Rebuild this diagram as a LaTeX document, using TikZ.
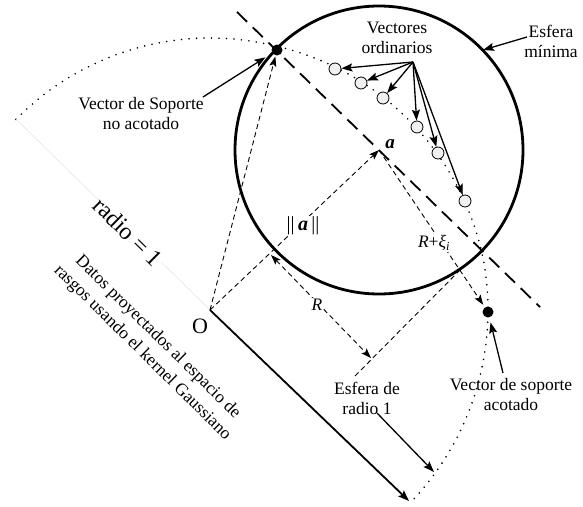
\documentclass[tikz,border=0pt]{standalone}
\usepackage{fontspec}
\setmainfont{Liberation Serif}
\usetikzlibrary{arrows.meta}
\begin{document}
\begin{tikzpicture}[x=1pt,y=-1pt,
  thickc/.style={line width=2.8pt},
  tip/.style={-{Stealth[length=11pt,width=8pt,inset=2pt]}},
  arr/.style={line width=1.3pt,tip},
  thindash/.style={line width=0.9pt,dash pattern=on 5pt off 3.5pt},
  darr/.style={thindash,-{Stealth[length=10pt,width=7pt,inset=2pt]}},
  longdash/.style={line width=1.8pt,dash pattern=on 14pt off 8pt},
  dotline/.style={line width=1.8pt,dash pattern=on 0pt off 7.5pt,line cap=round},
  lbl/.style={font=\fontsize{17.5}{20}\selectfont,align=center,inner sep=1pt},
  vec/.style={circle,draw,line width=0.8pt,fill=gray!12,minimum size=12pt,inner sep=0pt},
  svdot/.style={circle,fill=black,minimum size=11pt,inner sep=0pt},
  wlbl/.style={fill=white,inner sep=1pt},
]
\useasboundingbox (0,0) rectangle (583,506);
% key points
\coordinate (O) at (210,310);
\coordinate (a) at (379,150);
\coordinate (arcstart) at (16,119);
\coordinate (E) at (409,501);
\coordinate (ld1) at (237,12);
\coordinate (ld2) at (540,307);
\coordinate (P) at (271,255);
\coordinate (Q) at (371,358);
\coordinate (L1) at (355,376);
\coordinate (L2) at (463,267);
% radius-1 sphere (dotted)
\draw[dotline] plot[domain=135.5:-44,samples=150]
  ({210+(272+6*max(0,min(1,(77-\x)/67)))*cos(\x)},
   {310-(272+6*max(0,min(1,(77-\x)/67)))*sin(\x)});
% faint radius line
\draw[gray!20,line width=0.6pt] (O) -- (arcstart);
% minimal sphere
\draw[thickc] (a) circle[radius=144];
% long dashed hyperplane
\draw[longdash] (ld1) -- (ld2);
% solid radius line
\draw[line width=1.8pt,tip] (O) -- (E);
% support vectors and ordinary vectors
\node[svdot] (svu) at (277,50) {};
\node[svdot] (svb) at (488,312) {};
\node[vec] (c1) at (335,69) {};
\node[vec] (c2) at (361,83) {};
\node[vec] (c3) at (383,98) {};
\node[vec] (c4) at (417,127) {};
\node[vec] (c5) at (438,153) {};
\node[vec] (c6) at (465,201) {};
% dashed vectors
\draw[darr,shorten >=1pt] (O) -- (svu);
\draw[darr] (O) -- (a);
\draw[darr,shorten >=3pt] (a) -- (svb);
\draw[thindash,{Stealth[length=10pt,width=7pt,inset=2pt]}-{Stealth[length=10pt,width=7pt,inset=2pt]}] (P) -- (Q);
\draw[thindash] (L1) -- (L2);
% labels on lines
\node[wlbl,font=\fontsize{24}{26}\selectfont,rotate=-44.6] (radio) at (128,232) {radio = 1};
\node[wlbl,font=\fontsize{20}{22}\selectfont] (norm) at (303,226) {||\,\textbf{\textit{a}}\,||};
\node[wlbl,font=\fontsize{17.5}{20}\selectfont] (Rl) at (317,305) {\textit{R}};
\node[wlbl,font=\fontsize{17.5}{20}\selectfont] (Rxi) at (434,243) {\textit{R}+\textit{ξ}\textsubscript{\textit{i}}};
\node[font=\fontsize{19}{21}\selectfont\bfseries\itshape,inner sep=0pt] (alab) at (390,144) {a};
\node[font=\fontsize{22}{24}\selectfont,inner sep=0pt] (Olab) at (200,326) {O};
% text labels
\node[lbl] (vsna) at (141,114) {Vector de Soporte\\no acotado};
\node[lbl] (vo) at (397,38) {Vectores\\ordinarios};
\node[lbl] (em) at (551,41) {Esfera\\mínima};
\node[lbl] (edr) at (367,398) {Esfera de\\radio 1};
\node[lbl] (vsa) at (511,395) {Vector de soporte\\acotado};
\node[lbl,font=\fontsize{17.5}{22}\selectfont,rotate=-44.6] (datos) at (150,345) {Datos proyectados al espacio de\\rasgos usando el kernel Gaussiano};
% label arrows
\coordinate (vsnaS) at (203,97);
\coordinate (voS) at (413,62);
\coordinate (emS) at (527,37);
\coordinate (emT) at (483,50);
\coordinate (edrS) at (377,413);
\coordinate (edrT) at (434,472);
\coordinate (vsaS) at (503,373);
\draw[arr,shorten >=8pt] (vsnaS) -- (svu);
\foreach \c in {c1,c2,c3,c4,c5,c6} \draw[arr] (voS) -- (\c);
\draw[arr] (emS) -- (emT);
\draw[arr] (edrS) -- (edrT);
\draw[arr,shorten >=5pt] (vsaS) -- (svb);
\end{tikzpicture}
\end{document}
